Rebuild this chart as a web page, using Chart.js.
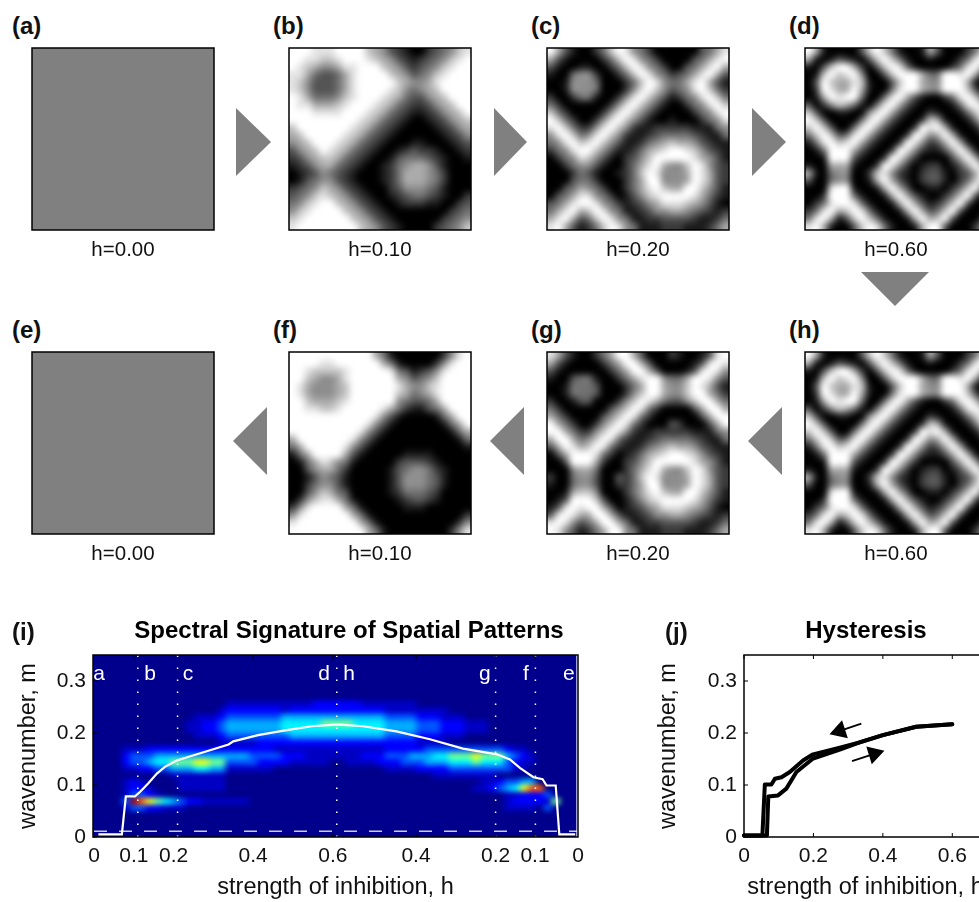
<!DOCTYPE html>
<html>
<head>
<meta charset="utf-8">
<title>Spectral Signature of Spatial Patterns</title>
<script src="https://cdn.jsdelivr.net/npm/chart.js@4"></script>
<style>
    html, body { margin: 0; padding: 0; background: #fff; }
    #page { position: relative; width: 979px; height: 902px; overflow: hidden; background: #fff; }
    #page canvas { position: absolute; }
    .letter { position: absolute; font: bold 24px "Liberation Sans", sans-serif; color: #111; line-height: 28px; }
    .heading { position: absolute; font: bold 24px "Liberation Sans", sans-serif; color: #000; line-height: 28px; transform: translateX(-50%); white-space: nowrap; }
    .arrow { position: absolute; background: #808080; }
</style>
</head>
<body>
<div id="page"></div>
<script>
// ── PATTERN PANELS: grey level per cell, 0 = black, 9 = white, m = mid grey ──
const gridA = ['mm', 'mm'];
const gridE = ['mm', 'mm'];
const gridB = [
    '999888999976532100234578',
    '998877899987653212345789',
    '987655688999765323457899',
    '886433468999976534578999',
    '875333468999997655689999',
    '875333468999987545679999',
    '986444578999876433567999',
    '988666789998764322356799',
    '999888899987643211235679',
    '999999999876432100123567',
    '799999998764321000012356',
    '679999987643210000001235',
    '567999876432100011000123',
    '356798764321001232210012',
    '235677643210013444321001',
    '123566432100124566531000',
    '012354321000124666542000',
    '013455321000124666542000',
    '234576532100023555431000',
    '345787653210012344321002',
    '457899765321001222110023',
    '578999976532100000000234',
    '789999997653210000002345',
    '899999999765321000023457'
];
const gridC = [
    '963100247985420000003468',
    '631000024798542000034689',
    '310011002479854200346896',
    '100455200247985423468963',
    '001555400024798544689631',
    '001555400025897534589742',
    '200244100258975312458974',
    '420000002589753100245897',
    '742000025897531000024589',
    '974200258975310010002458',
    '897422589752112222211145',
    '589745897521123444432114',
    '458978975311245676653211',
    '245899753112467899875321',
    '024587531023579999986531',
    '002455310024689655798532',
    '000243100124798555698632',
    '000344200024699555698632',
    '003465420024689766997531',
    '034688542013578999986421',
    '346899854212356888765310',
    '468967985411235566543212',
    '689634798541122333321124',
    '896312479854111222111246'
];
const gridD = [
    '961000037974100163000248',
    '610132103797410010002489',
    '103799620379841000024896',
    '017978950037999644998961',
    '039766871003799655999610',
    '029866961004899655999730',
    '016989940048963100248973',
    '302576410489631000014897',
    '730011005896310021001479',
    '973000048963100276100148',
    '797300489631002989610014',
    '479734896310029856961001',
    '148978963100298523696100',
    '014999631002985211369610',
    '001999310029852000036961',
    '100666100298520122013696',
    '610455002785210233102369',
    '300455001696310233102479',
    '000899100169630011024793',
    '002999410016963100247930',
    '024899841001696312479300',
    '248967984100169634793000',
    '489613797410016967930002',
    '896100379841001699300025'
];
const gridF = [
    '999999999996410000002589',
    '999988999999641000025899',
    '998777789999984312358999',
    '997655689999996534579999',
    '986555679999998655789999',
    '986555679999997645689999',
    '997666789999995433469999',
    '998877899999864211346999',
    '999999999998531000014699',
    '999999999985310000001469',
    '999999999853100000000146',
    '699999998531000000000014',
    '469999985310000000000001',
    '146999963100000111100000',
    '014687541000002333210000',
    '003566420000013455421000',
    '001354310000013555431000',
    '002455310000013555431000',
    '003576430000012444320000',
    '025788641000001233210000',
    '258999964100000111000000',
    '589999996410000000000002',
    '899999999641000000000025',
    '999999999964100000000258'
];
const gridG = [
    '863100246996300021001389',
    '631000024699630000013898',
    '310000002469963000138985',
    '100344100246899544699853',
    '001444300024699655798631',
    '001444300025799655799642',
    '200133000257986433579964',
    '420000003579842000036996',
    '642000035798420000003699',
    '964200257984200032000369',
    '996422579852112222211145',
    '699645798421123444432114',
    '369867984211245676653211',
    '036999842012467899875321',
    '003999620023579999986531',
    '000566400024689655798532',
    '200455300324798555698632',
    '100455300224699555698632',
    '001677500024689766997531',
    '013999730013578999986421',
    '138989963012356888765310',
    '389866996311235566543212',
    '898534699641122333321124',
    '985312469954111222111246'
];
const gridH = gridD; // (h) shows the same pattern as (d)

const panelNames = ['(a)', '(b)', '(c)', '(d)', '(e)', '(f)', '(g)', '(h)'];
const panelLabels = ['h=0.00', 'h=0.10', 'h=0.20', 'h=0.60', 'h=0.00', 'h=0.10', 'h=0.20', 'h=0.60'];
const panelGrids = [gridA, gridB, gridC, gridD, gridE, gridF, gridG, gridH];

// ── PANEL (i): spectrogram, top row first, 0 = navy ... 9 = dark red ──
const spectrum = [
    '0', '0', '0', '0', '0', '0', '0',
    '0000000000000000011111111111222222111111100000000000000000000',
    '0000000000000000122222221222222222222111111110000000000000000',
    '0000000000000111233333334444444444444333322211100000000000000',
    '0000000000001122344444445555566665555444433322211100000000000',
    '0000000000001122344444445555555555555444433322211100000000000',
    '0000000000000111233333333444444444444333322211100000000000000',
    '0000000000000000111112222222222222222222211110000000000000000',
    '0000111222222222222222211111111111111222223333333333211000000',
    '0000233344444444444433332221111111222333444556667666432100000',
    '0000233455666776633332222111110011112223334445556555321100000',
    '0000112233444554411111100000000000000111122223333333311000000',
    '0000000000111111100000000000000000000000000111111110000000000',
    '0000121000011111100000000000000000000000000000000112334400000',
    '0000122100011111100000000000000000000000000000001123457880000',
    '0000133210000000000000000000000000000000000000000000112223000',
    '0000398765432211111100000000000000000000000000000000122221600',
    '0000133221110000000000000000000000000000000000000000111103000',
    '0', '0', '0', '0'
];
const spectrumStep = 0.02;
const wavenumberStep = 0.0125;

const sweepPos = [0.011, 0.07, 0.08, 0.103, 0.116, 0.136, 0.158, 0.178, 0.208, 0.271, 0.338, 0.35, 0.412, 0.48, 0.547, 0.606,
    0.618, 0.676, 0.76, 0.844, 0.927, 1.012, 1.045, 1.07, 1.104, 1.127, 1.137, 1.16, 1.169, 1.209];
const sweepPeak = [0.005, 0.005, 0.078, 0.078, 0.087, 0.103, 0.122, 0.135, 0.147, 0.162, 0.178, 0.184, 0.196, 0.205, 0.213, 0.216,
    0.216, 0.213, 0.203, 0.188, 0.17, 0.159, 0.149, 0.133, 0.115, 0.111, 0.099, 0.099, 0.005, 0.005];
const floorLevel = 0.011;
const snapshotPos = [0.11, 0.21, 0.61, 1.009, 1.109];
const snapshotLetters = ['a', 'b', 'c', 'd', 'h', 'g', 'f', 'e'];
const snapshotLetterPos = [0.013, 0.141, 0.236, 0.578, 0.641, 0.982, 1.085, 1.193];
const sweepTickPos = [0, 0.1, 0.2, 0.4, 0.6, 0.809, 1.009, 1.108, 1.216];
const sweepTickLabels = ['0', '0.1', '0.2', '0.4', '0.6', '0.4', '0.2', '0.1', '0'];
const sweepMarks = [0.1, 0.2, 0.4, 0.6, 0.809, 1.009, 1.108];
const wavenumberTicks = [0, 0.1, 0.2, 0.3];

// ── PANEL (j): hysteresis curves ──
const forwardH = [0, 0.055, 0.066, 0.07, 0.098, 0.122, 0.151, 0.199, 0.276, 0.333, 0.4, 0.496, 0.6];
const forwardM = [0.003, 0.003, 0.003, 0.078, 0.08, 0.093, 0.125, 0.151, 0.168, 0.182, 0.196, 0.212, 0.217];
const backwardH = [0.6, 0.496, 0.4, 0.333, 0.276, 0.199, 0.17, 0.132, 0.108, 0.089, 0.079, 0.06, 0.053, 0];
const backwardM = [0.217, 0.212, 0.196, 0.182, 0.172, 0.159, 0.147, 0.125, 0.115, 0.112, 0.101, 0.101, 0.003, 0.003];
const leftArrowH = [0.338, 0.276];
const leftArrowM = [0.218, 0.204];
const rightArrowH = [0.311, 0.375];
const rightArrowM = [0.146, 0.16];
const hystTicks = [0, 0.2, 0.4, 0.6];

const jetSteps = ['#00008c', '#0000c4', '#0000ff', '#0050ff', '#00a8ff', '#00f0ff', '#70ff90', '#f0ff10', '#ff6000', '#a00000'];

const FONT = '"Liberation Sans", sans-serif';
Chart.defaults.font.family = FONT;
Chart.defaults.color = '#111';
Chart.defaults.animation = false;

const page = document.getElementById('page');

function addCanvas(left, top, width, height) {
    const c = document.createElement('canvas');
    c.width = width;
    c.height = height;
    c.style.left = left + 'px';
    c.style.top = top + 'px';
    c.style.width = width + 'px';
    c.style.height = height + 'px';
    page.appendChild(c);
    return c;
}

function addText(cls, text, left, top) {
    const el = document.createElement('div');
    el.className = cls;
    el.textContent = text;
    el.style.left = left + 'px';
    el.style.top = top + 'px';
    page.appendChild(el);
}

function greyOf(ch) {
    const g = ch === 'm' ? 128 : Math.round(Number(ch) * 255 / 9);
    return [g, g, g];
}

function jetOf(ch) {
    const hex = jetSteps[Number(ch)];
    return [1, 3, 5].map(i => parseInt(hex.slice(i, i + 2), 16));
}

function cellPoints(rows, cols, xOf, yOf) {
    const pts = [];
    rows.forEach((row, r) => {
        for (let c = 0; c < cols; c++) {
            pts.push({ x: xOf(c), y: yOf(r), v: row[c] || '0' });
        }
    });
    return pts;
}

function xyPoints(xs, ys) {
    return xs.map((x, i) => ({ x, y: ys[i] }));
}

// paints the cells of a grid dataset, placed by the chart scales, with smooth upscaling
const heatLayer = {
    id: 'heatLayer',
    beforeDatasetsDraw(chart) {
        const ds = chart.data.datasets.find(d => d.heat);
        if (!ds) return;
        const { cols, rows, colourOf, blur } = ds.heat;
        const off = document.createElement('canvas');
        off.width = cols;
        off.height = rows;
        const octx = off.getContext('2d');
        const img = octx.createImageData(cols, rows);
        ds.data.forEach((p, i) => {
            const rgb = colourOf(p.v);
            img.data[i * 4] = rgb[0];
            img.data[i * 4 + 1] = rgb[1];
            img.data[i * 4 + 2] = rgb[2];
            img.data[i * 4 + 3] = 255;
        });
        octx.putImageData(img, 0, 0);

        const first = ds.data[0];
        const last = ds.data[ds.data.length - 1];
        const x0 = chart.scales.x.getPixelForValue(first.x);
        const x1 = chart.scales.x.getPixelForValue(last.x);
        const y0 = chart.scales.y.getPixelForValue(first.y);
        const y1 = chart.scales.y.getPixelForValue(last.y);
        const cw = (x1 - x0) / (cols - 1);
        const ch = (y1 - y0) / (rows - 1);
        const area = chart.chartArea;
        const ctx = chart.ctx;
        ctx.save();
        ctx.beginPath();
        ctx.rect(area.left, area.top, area.width, area.height);
        ctx.clip();
        ctx.imageSmoothingEnabled = true;
        ctx.imageSmoothingQuality = 'high';
        ctx.drawImage(off, x0 - cw / 2, y0 - ch / 2, cw * cols, ch * rows);
        ctx.filter = `blur(${blur}px)`;
        ctx.drawImage(off, x0 - cw / 2, y0 - ch / 2, cw * cols, ch * rows);
        ctx.restore();
    }
};

// black box and inward tick marks, MATLAB style
const boxLayer = {
    id: 'boxLayer',
    afterDatasetsDraw(chart, args, opts) {
        const area = chart.chartArea;
        const ctx = chart.ctx;
        ctx.save();
        ctx.strokeStyle = '#000';
        ctx.lineWidth = 1.5;
        ctx.strokeRect(area.left, area.top, area.width, area.height);
        ctx.lineWidth = 1;
        ctx.beginPath();
        (opts.xMarks || []).forEach(v => {
            const x = chart.scales.x.getPixelForValue(v);
            ctx.moveTo(x, area.bottom);
            ctx.lineTo(x, area.bottom - 4);
            ctx.moveTo(x, area.top);
            ctx.lineTo(x, area.top + 4);
        });
        (opts.yMarks || []).forEach(v => {
            const y = chart.scales.y.getPixelForValue(v);
            ctx.moveTo(area.left, y);
            ctx.lineTo(area.left + 4, y);
        });
        ctx.stroke();
        ctx.restore();
    }
};

// the small letters along the top of panel (i)
const letterLayer = {
    id: 'letterLayer',
    afterDatasetsDraw(chart, args, opts) {
        if (!opts.letters) return;
        const ctx = chart.ctx;
        ctx.save();
        ctx.fillStyle = '#fff';
        ctx.font = '21px ' + FONT;
        ctx.textAlign = 'center';
        ctx.textBaseline = 'middle';
        opts.letters.forEach((t, i) => {
            ctx.fillText(t, chart.scales.x.getPixelForValue(opts.positions[i]), chart.scales.y.getPixelForValue(opts.level));
        });
        ctx.restore();
    }
};

Chart.register(heatLayer, boxLayer, letterLayer);

// ── 1. THE EIGHT PATTERN PANELS ──────────────────
const panelLeft = [32, 289, 547, 805];
const panelTop = [48, 352];
const PANEL = 182;

panelGrids.forEach((rows, i) => {
    const left = panelLeft[i % 4];
    const top = panelTop[i < 4 ? 0 : 1];
    const cols = rows[0].length;
    const canvas = addCanvas(left - 1, top - 1, PANEL + 2, PANEL + 42);
    new Chart(canvas, {
        type: 'scatter',
        data: {
            datasets: [{
                data: cellPoints(rows, cols, c => c + 0.5, r => r + 0.5),
                heat: { cols, rows: rows.length, colourOf: greyOf, blur: 2 },
                pointRadius: 0
            }]
        },
        options: {
            responsive: false,
            layout: { padding: { top: 1, left: 1, right: 1, bottom: 0 } },
            plugins: { legend: { display: false }, tooltip: { enabled: false }, boxLayer: {} },
            scales: {
                x: {
                    min: 0, max: cols,
                    grid: { display: false },
                    border: { display: false },
                    ticks: { display: false },
                    title: { display: true, text: panelLabels[i], font: { size: 20.5 }, padding: { top: 0, bottom: 8 } },
                    afterFit: axis => { axis.height = 41; }
                },
                y: { min: 0, max: rows.length, reverse: true, display: false }
            }
        }
    });

    addText('letter', panelNames[i], left < 100 ? 12 : left - 16, top - 36);
});

// ── 2. GREY ARROWS BETWEEN PANELS ────────────────
[
    [236, 108, 35, 68, '0 0, 100% 50%, 0 100%'],
    [494, 108, 33, 68, '0 0, 100% 50%, 0 100%'],
    [752, 108, 34, 68, '0 0, 100% 50%, 0 100%'],
    [861, 272, 68, 34, '0 0, 100% 0, 50% 100%'],
    [233, 407, 34, 68, '100% 0, 0 50%, 100% 100%'],
    [490, 407, 34, 68, '100% 0, 0 50%, 100% 100%'],
    [748, 407, 34, 68, '100% 0, 0 50%, 100% 100%']
].forEach(a => {
    const el = document.createElement('div');
    el.className = 'arrow';
    el.style.cssText = `left:${a[0]}px;top:${a[1]}px;width:${a[2]}px;height:${a[3]}px;clip-path:polygon(${a[4]});`;
    page.appendChild(el);
});

const tickFont = { size: 21 };
const labelFont = { size: 23.5 };

function wavenumberAxis() {
    return {
        min: 0, max: 0.35,
        grid: { display: false, drawTicks: false },
        border: { display: false },
        ticks: { font: tickFont, padding: 7, callback: v => (v === 0 ? '0' : v.toFixed(1)) },
        afterBuildTicks: axis => { axis.ticks = wavenumberTicks.map(value => ({ value })); },
        title: { display: true, text: 'wavenumber, m', font: labelFont, padding: { top: 14, bottom: 0 } },
        afterFit: axis => { axis.width = 93; }
    };
}

// ── 3. PANEL (i) SPECTROGRAM ─────────────────────
const spectrumCols = spectrum[7].length;
const sweepCanvas = addCanvas(0, 610, 600, 292);
new Chart(sweepCanvas, {
    type: 'scatter',
    data: {
        datasets: [
            {
                data: cellPoints(spectrum, spectrumCols,
                    c => c * spectrumStep,
                    r => (spectrum.length - r - 0.5) * wavenumberStep),
                heat: { cols: spectrumCols, rows: spectrum.length, colourOf: jetOf, blur: 1.5 },
                pointRadius: 0
            },
            ...snapshotPos.map(s => ({
                data: xyPoints([s, s], [0, 0.35]),
                showLine: true,
                pointRadius: 0,
                borderColor: '#fff',
                borderWidth: 1.5,
                borderDash: [1.5, 10.5]
            })),
            {
                data: xyPoints([0, 1.216], [floorLevel, floorLevel]),
                showLine: true,
                pointRadius: 0,
                borderColor: 'rgba(255,255,255,0.8)',
                borderWidth: 1.5,
                borderDash: [13, 12]
            },
            {
                data: xyPoints(sweepPos, sweepPeak),
                showLine: true,
                pointRadius: 0,
                borderColor: '#fff',
                borderWidth: 2.2
            }
        ]
    },
    options: {
        responsive: false,
        layout: { padding: { top: 45, right: 22 } },
        plugins: {
            legend: { display: false },
            tooltip: { enabled: false },
            boxLayer: { xMarks: sweepMarks, yMarks: wavenumberTicks },
            letterLayer: { letters: snapshotLetters, positions: snapshotLetterPos, level: 0.313 }
        },
        scales: {
            x: {
                min: -0.0025, max: 1.216,
                grid: { display: false, drawTicks: false },
                border: { display: false },
                ticks: { font: tickFont, padding: 7, autoSkip: false, maxRotation: 0, callback: (v, i) => sweepTickLabels[i] },
                afterBuildTicks: axis => { axis.ticks = sweepTickPos.map(value => ({ value })); },
                title: { display: true, text: 'strength of inhibition, h', font: labelFont, padding: { top: 0, bottom: 0 } },
                afterFit: axis => { axis.height = 65; }
            },
            y: wavenumberAxis()
        }
    }
});

// ── 4. PANEL (j) HYSTERESIS ──────────────────────
const hystCanvas = addCanvas(640, 610, 452, 292);
const thickLine = { showLine: true, pointRadius: 0, borderColor: '#000', borderWidth: 4, borderJoinStyle: 'round', borderCapStyle: 'round', clip: false };
new Chart(hystCanvas, {
    type: 'scatter',
    data: {
        datasets: [
            { ...thickLine, data: xyPoints(forwardH, forwardM) },
            { ...thickLine, data: xyPoints(backwardH, backwardM) },
            {
                data: xyPoints(leftArrowH, leftArrowM),
                showLine: true,
                borderColor: '#000',
                borderWidth: 1.8,
                pointStyle: 'triangle',
                pointRadius: [0, 9],
                pointRotation: [0, -108],
                pointBackgroundColor: '#000',
                pointBorderColor: '#000'
            },
            {
                data: xyPoints(rightArrowH, rightArrowM),
                showLine: true,
                borderColor: '#000',
                borderWidth: 1.8,
                pointStyle: 'triangle',
                pointRadius: [0, 9],
                pointRotation: [0, 73],
                pointBackgroundColor: '#000',
                pointBorderColor: '#000'
            }
        ]
    },
    options: {
        responsive: false,
        layout: { padding: { top: 45, right: 105 } },
        plugins: {
            legend: { display: false },
            tooltip: { enabled: false },
            boxLayer: { xMarks: hystTicks, yMarks: wavenumberTicks }
        },
        scales: {
            x: {
                min: 0, max: 0.7,
                grid: { display: false, drawTicks: false },
                border: { display: false },
                ticks: { font: tickFont, padding: 7, maxRotation: 0, callback: v => (v === 0 ? '0' : v.toFixed(1)) },
                afterBuildTicks: axis => { axis.ticks = hystTicks.map(value => ({ value })); },
                title: { display: true, text: 'strength of inhibition, h', font: labelFont, padding: { top: 0, bottom: 0 } },
                afterFit: axis => { axis.height = 65; }
            },
            y: { ...wavenumberAxis(), afterFit: axis => { axis.width = 104; } }
        }
    }
});

// headings and panel letters of the two lower charts
addText('heading', 'Spectral Signature of Spatial Patterns', 349, 616);
addText('heading', 'Hysteresis', 866, 616);
addText('letter', '(i)', 12, 618);
addText('letter', '(j)', 665, 618);
</script>
</body>
</html>
